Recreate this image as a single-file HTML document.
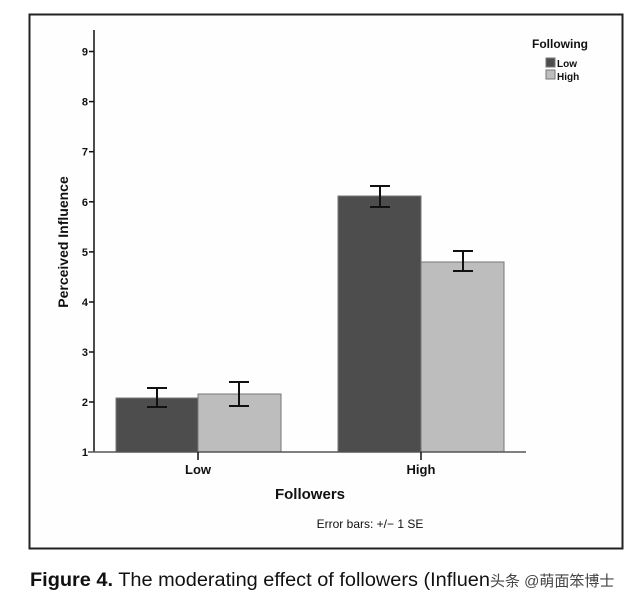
<!DOCTYPE html>
<html><head><style>
html,body{margin:0;padding:0;background:#fff;width:640px;height:606px;overflow:hidden}
</style></head><body>
<svg width="640" height="606" xmlns="http://www.w3.org/2000/svg" font-family="Liberation Sans, sans-serif">
<rect x="0" y="0" width="640" height="606" fill="#fff"/>
<rect x="29.5" y="14.5" width="593" height="534" fill="#fefefe" stroke="#222" stroke-width="2"/>
<g stroke="#777" stroke-width="1">
<rect x="116" y="398" width="82" height="54" fill="#4d4d4d"/>
<rect x="198" y="394" width="83" height="58" fill="#bdbdbd"/>
<rect x="338" y="196" width="83" height="256" fill="#4d4d4d"/>
<rect x="421" y="262" width="83" height="190" fill="#bdbdbd"/>
</g>
<g stroke="#111" stroke-width="2" fill="none">
<path d="M157 388V407M147 388H167M147 407H167"/>
<path d="M239 382V406M229 382H249M229 406H249"/>
<path d="M380 186V207M370 186H390M370 207H390"/>
<path d="M463 251V271M453 251H473M453 271H473"/>
</g>
<g stroke="#111" stroke-width="1.5">
<line x1="94" y1="30" x2="94" y2="452"/>
<line x1="88" y1="452" x2="526" y2="452" stroke="#555"/>
<line x1="198" y1="452" x2="198" y2="460"/>
<line x1="421" y1="452" x2="421" y2="460"/>
<line x1="89" y1="51.5" x2="94" y2="51.5"/>
<line x1="89" y1="101.6" x2="94" y2="101.6"/>
<line x1="89" y1="151.7" x2="94" y2="151.7"/>
<line x1="89" y1="201.8" x2="94" y2="201.8"/>
<line x1="89" y1="251.9" x2="94" y2="251.9"/>
<line x1="89" y1="302" x2="94" y2="302"/>
<line x1="89" y1="352" x2="94" y2="352"/>
<line x1="89" y1="402" x2="94" y2="402"/>
</g>
<g font-size="11" font-weight="bold" text-anchor="end" fill="#111">
<text x="88" y="55.5">9</text><text x="88" y="105.6">8</text><text x="88" y="155.7">7</text>
<text x="88" y="205.8">6</text><text x="88" y="255.9">5</text><text x="88" y="306">4</text>
<text x="88" y="356">3</text><text x="88" y="406">2</text><text x="88" y="456">1</text>
</g>
<text transform="translate(68,242) rotate(-90)" font-size="14" font-weight="bold" text-anchor="middle" fill="#111">Perceived Influence</text>
<text x="198" y="474" font-size="13" font-weight="bold" text-anchor="middle" fill="#111">Low</text>
<text x="421" y="474" font-size="13" font-weight="bold" text-anchor="middle" fill="#111">High</text>
<text x="310" y="499" font-size="15" font-weight="bold" text-anchor="middle" fill="#111">Followers</text>
<text x="370" y="528" font-size="12" text-anchor="middle" fill="#111">Error bars: +/− 1 SE</text>
<text x="532" y="48" font-size="12" font-weight="bold" fill="#111">Following</text>
<rect x="546" y="58" width="9" height="9" fill="#4d4d4d" stroke="#777"/>
<rect x="546" y="70" width="9" height="9" fill="#bdbdbd" stroke="#777"/>
<text x="557" y="67" font-size="10" font-weight="bold" fill="#111">Low</text>
<text x="557" y="80" font-size="10" font-weight="bold" fill="#111">High</text>
<text x="30" y="586" font-size="19" fill="#111" textLength="460" lengthAdjust="spacingAndGlyphs"><tspan font-weight="bold">Figure 4.</tspan> The moderating effect of followers (Influen</text>
<text x="490" y="586" font-size="15" fill="#444" font-family="Liberation Sans, Noto Sans CJK SC, sans-serif">头条 @萌面笨博士</text>
</svg>
</body></html>
